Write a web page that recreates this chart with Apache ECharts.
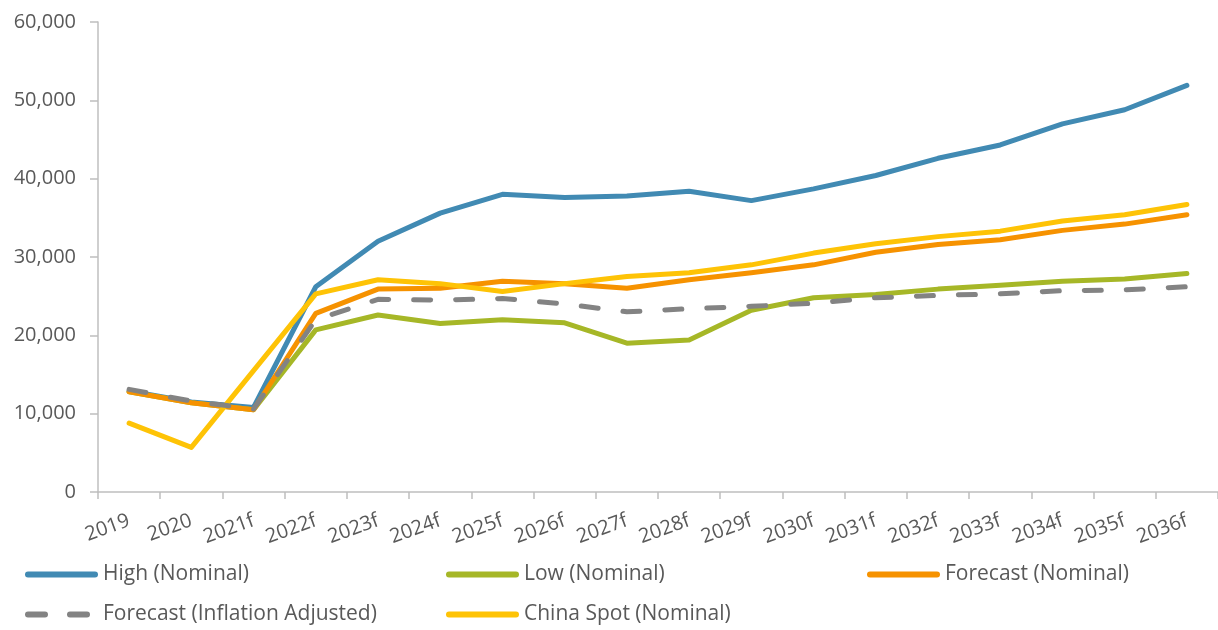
<!DOCTYPE html>
<html>
<head>
<meta charset="utf-8">
<script src="https://cdn.jsdelivr.net/npm/echarts@6/dist/echarts.min.js"></script>
<style>
  html, body { margin: 0; padding: 0; background: #fff; }
  #chart { width: 1218px; height: 630px; }
</style>
</head>
<body>
<div id="chart"></div>
<script>
// categories
const years = ['2019', '2020', '2021f', '2022f', '2023f', '2024f', '2025f', '2026f', '2027f',
  '2028f', '2029f', '2030f', '2031f', '2032f', '2033f', '2034f', '2035f', '2036f'];

// series values
const highNominal = [12900, 11500, 10800, 26200, 32000, 35600, 38000, 37600, 37800, 38400, 37200, 38700, 40400, 42600, 44300, 47000, 48800, 51900];
const lowNominal = [12800, 11400, 10500, 20700, 22600, 21500, 22000, 21600, 19000, 19400, 23200, 24800, 25200, 25900, 26400, 26900, 27200, 27900];
const forecastNominal = [12800, 11400, 10500, 22800, 25900, 26000, 26900, 26600, 26000, 27100, 28000, 29000, 30600, 31600, 32200, 33400, 34200, 35400];
const forecastInflAdj = [13100, 11600, 10600, 22000, 24600, 24500, 24700, 24000, 23000, 23400, 23700, 24100, 24800, 25100, 25300, 25700, 25800, 26200];
const chinaSpot = [8800, 5700, 15500, 25300, 27100, 26600, 25600, 26600, 27500, 28000, 29000, 30500, 31700, 32600, 33300, 34600, 35400, 36700];

// legend order: 3 per row
const legendNames = ['High (Nominal)', 'Low (Nominal)', 'Forecast (Nominal)',
  'Forecast (Inflation Adjusted)', 'China Spot (Nominal)'];

const textColor = '#595959';
const axisColor = '#bfbfbf';
const font = 'Open Sans';

const chart = echarts.init(document.getElementById('chart'));

const makeLine = (name, data, color, dashed) => ({
  name: name,
  type: 'line',
  data: data,
  symbol: 'none',
  lineStyle: {
    color: color,
    width: 5,
    cap: 'round',
    join: 'round',
    type: dashed ? [17, 25] : 'solid'
  },
  itemStyle: { color: color }
});

// one legend per item so the columns line up like the original
const legends = legendNames.map((name, i) => ({
  data: [name],
  left: 25 + (i % 3) * 421,
  top: i < 3 ? 564 : 604,
  padding: 0,
  itemWidth: 67,
  itemHeight: 14,
  itemStyle: { opacity: 0 },
  lineStyle: { width: 6, cap: 'round' },
  textStyle: {
    fontFamily: font,
    fontSize: 21,
    color: textColor,
    padding: [0, 0, 0, 3]
  }
}));

chart.setOption({
  animation: false,
  grid: { left: 98, top: 22, width: 1122, height: 470, containLabel: false },
  legend: legends,
  xAxis: {
    type: 'category',
    data: years,
    boundaryGap: true,
    axisLine: { lineStyle: { color: axisColor, width: 1.5 } },
    axisTick: { show: true, length: 7, lineStyle: { color: axisColor, width: 1.5 } },
    axisLabel: {
      rotate: 20,
      margin: 28,
      interval: 0,
      fontFamily: font,
      fontSize: 20,
      color: textColor
    },
    splitLine: { show: false }
  },
  yAxis: {
    type: 'value',
    min: 0,
    max: 60000,
    interval: 10000,
    axisLine: { show: true, lineStyle: { color: axisColor, width: 1.5 } },
    axisTick: { show: true, length: 8, lineStyle: { color: axisColor, width: 1.5 } },
    axisLabel: {
      margin: 22,
      fontFamily: font,
      fontSize: 20,
      color: textColor,
      formatter: v => v.toLocaleString('en-US')
    },
    splitLine: { show: false }
  },
  series: [
    makeLine('High (Nominal)', highNominal, '#418ab3', false),
    makeLine('Low (Nominal)', lowNominal, '#a6b727', false),
    makeLine('Forecast (Nominal)', forecastNominal, '#f69200', false),
    makeLine('China Spot (Nominal)', chinaSpot, '#fec306', false),
    makeLine('Forecast (Inflation Adjusted)', forecastInflAdj, '#838383', true)
  ]
});
</script>
</body>
</html>
